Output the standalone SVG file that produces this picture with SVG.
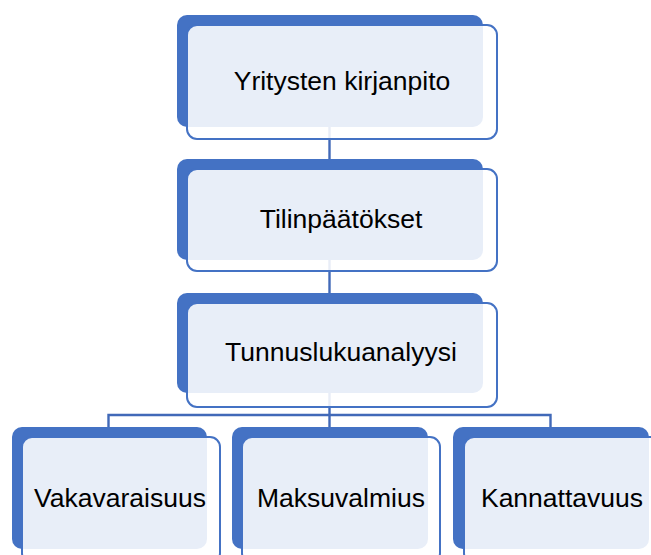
<svg xmlns="http://www.w3.org/2000/svg" width="651" height="555" viewBox="0 0 651 555">
<style>
.back{fill:#4472C4}
.front{fill:#ffffff;fill-opacity:0.88;stroke:#4472C4;stroke-width:2}
.conn{fill:none;stroke:#4169B8;stroke-width:2.4}
text{font-family:"Liberation Sans",Arial,sans-serif;font-size:26.5px;fill:#000;text-anchor:middle}
</style>
<rect width="651" height="555" fill="#ffffff"/>
<g id="connectors">
<path class="conn" d="M329.5 80 V220"/>
<path class="conn" d="M329.5 220 V350"/>
<path class="conn" d="M329.5 350 V430"/>
<path class="conn" d="M108.5 430 V415 H550.5 V430"/>
</g>
<g id="node-kirjanpito">
<rect class="back" x="177" y="15" width="306" height="112" rx="10"/>
<rect class="front" x="187" y="25" width="310" height="114" rx="10"/>
<text x="342" y="90">Yritysten kirjanpito</text>
</g>
<g id="node-tilinpaatokset">
<rect class="back" x="177" y="159" width="306" height="101" rx="10"/>
<rect class="front" x="187" y="169" width="310" height="102" rx="10"/>
<text x="341" y="228">Tilinpäätökset</text>
</g>
<g id="node-tunnuslukuanalyysi">
<rect class="back" x="177" y="293" width="306" height="100" rx="10"/>
<rect class="front" x="187" y="303" width="310" height="104" rx="10"/>
<text x="341" y="361">Tunnuslukuanalyysi</text>
</g>
<g id="node-vakavaraisuus">
<rect class="back" x="12" y="427" width="195" height="122" rx="10"/>
<rect class="front" x="22" y="437" width="198" height="126" rx="10"/>
<text x="120" y="507">Vakavaraisuus</text>
</g>
<g id="node-maksuvalmius">
<rect class="back" x="232" y="427" width="196" height="122" rx="10"/>
<rect class="front" x="242" y="437" width="198" height="126" rx="10"/>
<text x="341" y="507">Maksuvalmius</text>
</g>
<g id="node-kannattavuus">
<rect class="back" x="453" y="427" width="196" height="122" rx="10"/>
<rect class="front" x="464" y="437" width="198" height="126" rx="10"/>
<text x="562" y="507">Kannattavuus</text>
</g>
</svg>
